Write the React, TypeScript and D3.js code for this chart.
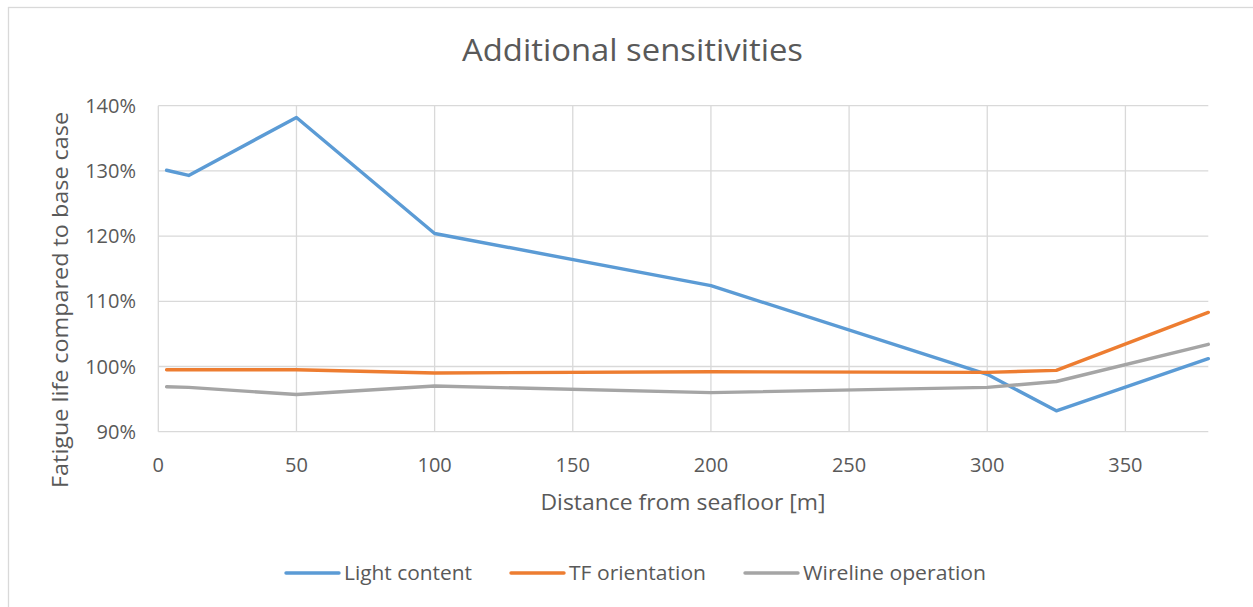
import React from "react";
import * as d3 from "d3";

const distances = [3, 11, 50, 100, 200, 300, 325, 380];
const lightContent = [1.301, 1.293, 1.382, 1.204, 1.124, 0.988, 0.932, 1.012];
const tfOrientation = [0.995, 0.995, 0.995, 0.990, 0.992, 0.991, 0.994, 1.083];
const wirelineOperation = [0.969, 0.968, 0.957, 0.970, 0.960, 0.968, 0.977, 1.034];
const seriesNames = ["Light content", "TF orientation", "Wireline operation"];
const seriesColors = ["#5B9BD5", "#ED7D31", "#A5A5A5"];
const xTicks = [0, 50, 100, 150, 200, 250, 300, 350];
const yTicks = [0.9, 1.0, 1.1, 1.2, 1.3, 1.4];

const W = 1253;
const H = 607;
const FONT = "'Open Sans', sans-serif";
const TEXT = "#595959";
const GRID = "#D9D9D9";

export default function App() {
  const x = d3.scaleLinear().domain([0, 380]).range([158.3, 1208.3]);
  const y = d3.scaleLinear().domain([0.9, 1.4]).range([431.7, 105.7]);
  const line = d3
    .line<[number, number]>()
    .x((d) => x(d[0]))
    .y((d) => y(d[1]));
  const series = [lightContent, tfOrientation, wirelineOperation];
  const fmt = d3.format(".0%");

  const legend = [
    { lx: 286, tx: 344, tw: 128 },
    { lx: 511, tx: 569, tw: 137 },
    { lx: 745, tx: 803, tw: 183 },
  ];

  return (
    <svg
      width={W}
      height={H}
      style={{ position: "absolute", left: 0, top: 0, background: "#fff" }}
    >
      <rect x={0} y={0} width={W} height={H} fill="#fff" />
      <rect x={8.5} y={7.5} width={W + 20} height={H + 20} fill="none" stroke={GRID} strokeWidth={1.3} />
      <text
        x={632.5}
        y={50}
        dy="0.36em"
        textAnchor="middle"
        fontFamily={FONT}
        fontSize={31}
        fill={TEXT}
        textLength={341}
        lengthAdjust="spacingAndGlyphs"
      >
        Additional sensitivities
      </text>
      {yTicks.map((t) => (
        <line key={"h" + t} x1={x(0)} x2={x(380)} y1={y(t)} y2={y(t)} stroke={GRID} strokeWidth={1.3} />
      ))}
      {xTicks.map((t) => (
        <line key={"v" + t} x1={x(t)} x2={x(t)} y1={y(1.4)} y2={y(0.9)} stroke={GRID} strokeWidth={1.3} />
      ))}
      {yTicks.map((t) => (
        <text
          key={"yl" + t}
          x={136}
          y={y(t)}
          dy="0.35em"
          textAnchor="end"
          fontFamily={FONT}
          fontSize={20}
          fill={TEXT}
        >
          {fmt(t)}
        </text>
      ))}
      {xTicks.map((t) => (
        <text
          key={"xl" + t}
          x={x(t)}
          y={465}
          dy="0.35em"
          textAnchor="middle"
          fontFamily={FONT}
          fontSize={20}
          fill={TEXT}
        >
          {t}
        </text>
      ))}
      <text
        x={683}
        y={502}
        dy="0.35em"
        textAnchor="middle"
        fontFamily={FONT}
        fontSize={22}
        fill={TEXT}
        textLength={285}
        lengthAdjust="spacingAndGlyphs"
      >
        Distance from seafloor [m]
      </text>
      <text
        transform={`translate(60,300) rotate(-90)`}
        dy="0.35em"
        textAnchor="middle"
        fontFamily={FONT}
        fontSize={22}
        fill={TEXT}
        textLength={376}
        lengthAdjust="spacingAndGlyphs"
      >
        Fatigue life compared to base case
      </text>
      {series.map((vals, i) => (
        <path
          key={"s" + i}
          d={line(distances.map((d, j) => [d, vals[j]] as [number, number])) || ""}
          fill="none"
          stroke={seriesColors[i]}
          strokeWidth={3.4}
          strokeLinejoin="round"
          strokeLinecap="round"
        />
      ))}
      {seriesNames.map((n, i) => (
        <g key={"lg" + i}>
          <line
            x1={legend[i].lx}
            x2={legend[i].lx + 53}
            y1={573}
            y2={573}
            stroke={seriesColors[i]}
            strokeWidth={3.4}
            strokeLinecap="round"
          />
          <text
            x={legend[i].tx}
            y={573}
            dy="0.35em"
            fontFamily={FONT}
            fontSize={20}
            fill={TEXT}
            textLength={legend[i].tw}
            lengthAdjust="spacingAndGlyphs"
          >
            {n}
          </text>
        </g>
      ))}
    </svg>
  );
}
